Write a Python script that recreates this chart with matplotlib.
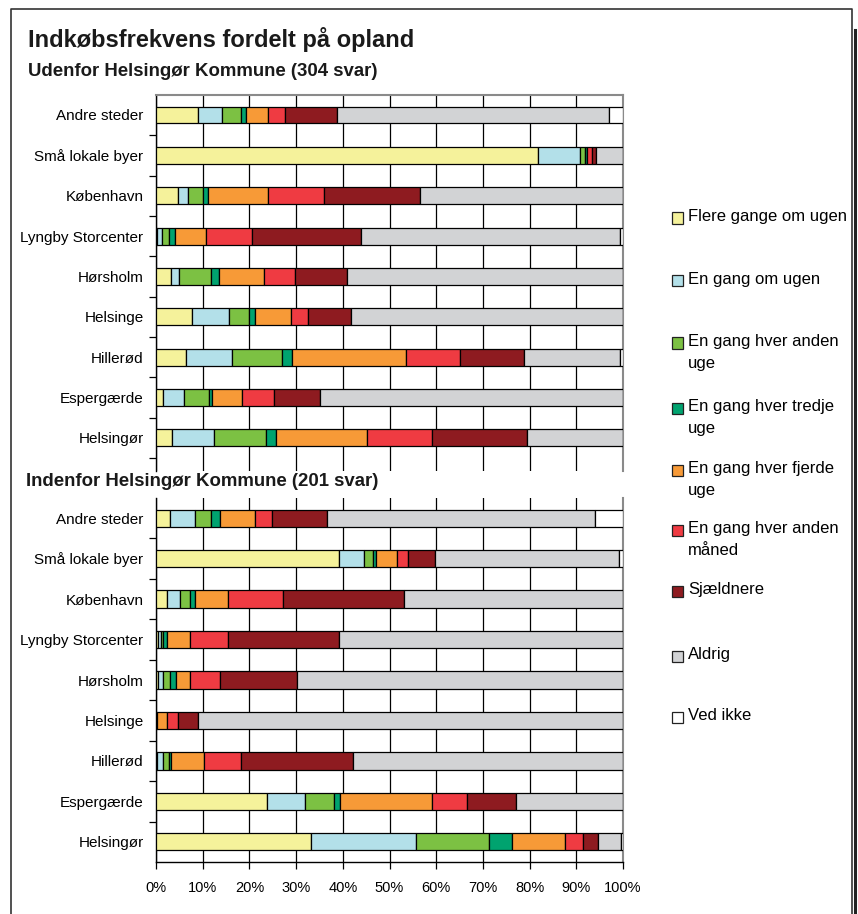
import textwrap
import matplotlib
matplotlib.use("Agg")
import matplotlib.pyplot as plt
from matplotlib.patches import Rectangle
from matplotlib.lines import Line2D
from matplotlib.ticker import FuncFormatter, FixedLocator

plt.rcParams['font.family'] = ['Liberation Sans', 'DejaVu Sans']

# ---------------- data ----------------
places = ["Andre steder", "Små lokale byer", "København", "Lyngby Storcenter",
          "Hørsholm", "Helsinge", "Hillerød", "Espergærde", "Helsingør"]

series = ["Flere gange om ugen", "En gang om ugen", "En gang hver anden uge",
          "En gang hver tredje uge", "En gang hver fjerde uge",
          "En gang hver anden måned", "Sjældnere", "Aldrig", "Ved ikke"]

colors = ["#F5F29B", "#B3E0E9", "#7CC143", "#00A36F", "#F79A37",
          "#EF3B42", "#8E1B20", "#D2D3D5", "#FFFFFF"]

# Udenfor Helsingør Kommune (304 svar) -- rows follow `places`
outside = {
    "Flere gange om ugen":      [9.1, 81.8, 4.7, 0.2, 3.2, 7.7, 6.4, 1.4, 3.4],
    "En gang om ugen":          [5.1, 8.9, 2.2, 1.0, 1.8, 7.9, 9.9, 4.7, 9.0],
    "En gang hver anden uge":   [4.0, 1.2, 3.1, 1.5, 6.8, 4.3, 10.7, 5.2, 11.1],
    "En gang hver tredje uge":  [1.0, 0.4, 1.2, 1.4, 1.6, 1.4, 2.2, 0.6, 2.1],
    "En gang hver fjerde uge":  [4.7, 0.0, 12.8, 6.5, 9.8, 7.6, 24.4, 6.6, 19.5],
    "En gang hver anden måned": [3.8, 1.1, 11.9, 9.9, 6.6, 3.6, 11.5, 6.8, 13.9],
    "Sjældnere":                [11.1, 0.9, 20.6, 23.4, 11.0, 9.2, 13.7, 9.9, 20.5],
    "Aldrig":                   [58.3, 5.7, 43.5, 55.4, 59.2, 58.3, 20.5, 64.8, 20.5],
    "Ved ikke":                 [2.9, 0.0, 0.0, 0.7, 0.0, 0.0, 0.7, 0.0, 0.0],
}

# Indenfor Helsingør Kommune (201 svar)
inside = {
    "Flere gange om ugen":      [2.9, 39.2, 2.3, 0.5, 0.5, 0.0, 0.3, 23.7, 33.1],
    "En gang om ugen":          [5.5, 5.4, 2.9, 0.5, 0.9, 0.0, 1.1, 8.1, 22.6],
    "En gang hver anden uge":   [3.4, 1.9, 2.0, 0.6, 1.7, 0.0, 1.3, 6.3, 15.5],
    "En gang hver tredje uge":  [2.0, 0.6, 1.2, 0.7, 1.2, 0.3, 0.6, 1.2, 5.0],
    "En gang hver fjerde uge":  [7.4, 4.4, 7.0, 5.0, 3.0, 2.0, 6.9, 19.7, 11.4],
    "En gang hver anden måned": [3.6, 2.5, 11.9, 8.1, 6.4, 2.5, 8.1, 7.7, 3.8],
    "Sjældnere":                [11.9, 5.7, 25.9, 23.8, 16.5, 4.1, 23.9, 10.3, 3.2],
    "Aldrig":                   [57.2, 39.4, 46.8, 60.8, 69.8, 91.1, 57.8, 23.0, 5.0],
    "Ved ikke":                 [6.1, 0.9, 0.0, 0.0, 0.0, 0.0, 0.0, 0.0, 0.4],
}

title = "Indkøbsfrekvens fordelt på opland"
sub_outside = "Udenfor Helsingør Kommune (304 svar)"
sub_inside = "Indenfor Helsingør Kommune (201 svar)"
xticks = list(range(0, 101, 10))

# ---------------- figure ----------------
W, H = 858, 914
fig = plt.figure(figsize=(W / 100, H / 100), dpi=100)


def fx(x):
    return x / W


def fy(y):
    return 1 - y / H


ax1 = fig.add_axes([fx(156), fy(471), (623 - 156) / W, (471 - 95) / H])
ax2 = fig.add_axes([fx(156), fy(862), (623 - 156) / W, (862 - 498) / H])


def draw(ax, data, ylim, top_spine, bottom_axis):
    ypos = list(range(len(places)))
    left = [0.0] * len(places)
    for name, col in zip(series, colors):
        vals = data[name]
        ax.barh(ypos, vals, left=left, height=0.42, color=col,
                edgecolor="black", linewidth=0.9, zorder=3)
        left = [a + b for a, b in zip(left, vals)]
    ax.set_xlim(0, 100)
    ax.set_ylim(*ylim)
    ax.set_xticks(xticks)
    ax.grid(axis="x", color="black", linewidth=0.9, zorder=0)
    ax.set_axisbelow(True)
    ax.set_yticks(ypos)
    ax.set_yticklabels(places, fontsize=11)
    ax.tick_params(axis="y", which="major", length=0, pad=9)
    ax.yaxis.set_minor_locator(FixedLocator([i + 0.5 for i in range(-1, len(places))]))
    ax.tick_params(axis="y", which="minor", length=5, width=0.9, direction="out")
    ax.spines["left"].set_color("black")
    ax.spines["left"].set_linewidth(1.0)
    ax.spines["right"].set_color("#8a8a8a")
    ax.spines["right"].set_linewidth(1.5)
    if top_spine:
        ax.spines["top"].set_color("#8a8a8a")
        ax.spines["top"].set_linewidth(1.5)
    else:
        ax.spines["top"].set_visible(False)
    if bottom_axis:
        ax.spines["bottom"].set_color("black")
        ax.spines["bottom"].set_linewidth(1.0)
        ax.xaxis.set_major_formatter(FuncFormatter(lambda v, p: f"{v:.0f}%"))
        ax.tick_params(axis="x", length=5, width=0.9, direction="out",
                       labelsize=10.5, pad=9)
    else:
        ax.spines["bottom"].set_visible(False)
        ax.tick_params(axis="x", length=0, labelbottom=False)


draw(ax1, outside, (8.82, -0.495), True, False)
draw(ax2, inside, (8.494, -0.494), False, True)

# titles
fig.text(fx(28), fy(40), title, fontsize=17, fontweight="bold",
         va="center", ha="left", color="#1a1a1a")
fig.text(fx(28), fy(71), sub_outside, fontsize=13.4, fontweight="bold",
         va="center", ha="left", color="#1a1a1a")
fig.text(fx(26), fy(482), sub_inside, fontsize=13.4, fontweight="bold",
         va="center", ha="left", color="#1a1a1a")

# legend (manual, Excel-like)
leg_y = [218, 281, 343, 408, 470, 530, 591, 656, 717]
for name, col, yy in zip(series, colors, leg_y):
    fig.add_artist(Rectangle((fx(672), fy(yy + 5.5)), 11 / W, 11 / H,
                             facecolor=col, edgecolor="#222222", linewidth=0.9,
                             transform=fig.transFigure))
    fig.text(fx(688), fy(yy - 9), textwrap.fill(name, 19), fontsize=12,
             va="top", ha="left", linespacing=1.6, color="black")

# outer frame
fig.add_artist(Line2D([fx(11), fx(11), fx(852), fx(852)],
                      [fy(930), fy(9), fy(9), fy(930)],
                      transform=fig.transFigure, color="#333333", linewidth=1.2))
fig.add_artist(Line2D([fx(855), fx(855)], [fy(30), fy(930)],
                      transform=fig.transFigure, color="#222222", linewidth=2.2))

fig.savefig("out.png", dpi=100)
